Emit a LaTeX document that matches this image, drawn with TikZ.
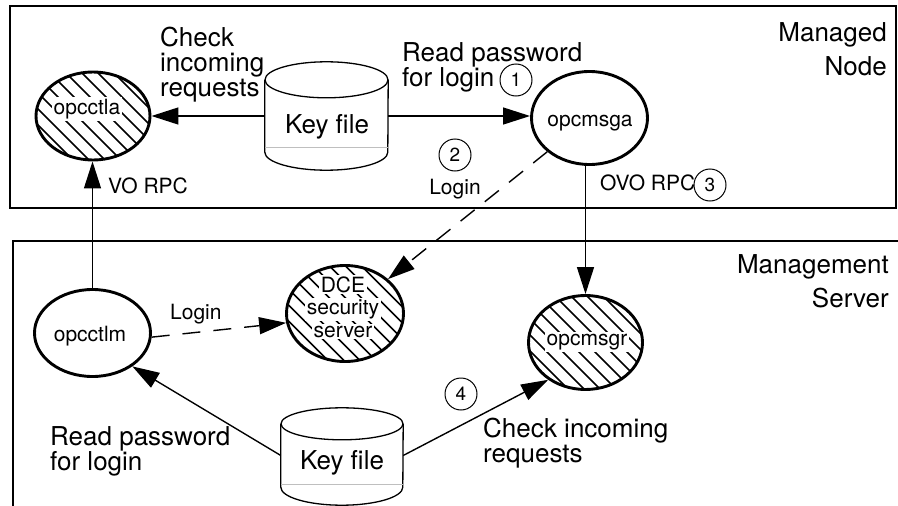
\documentclass[tikz,border=0pt]{standalone}
\usepackage{fontspec}
\setmainfont{TeX Gyre Heros}
\usetikzlibrary{arrows.meta,shapes.geometric}
\setlength{\fboxsep}{1.5pt}
\begin{document}
\begin{tikzpicture}[x=1pt, y=-1pt,
  frame/.style={line width=1.5pt},
  proc/.style={ellipse, draw, line width=2.9pt, inner sep=0pt},
  hatched/.style={path picture={
      \foreach \k in {-8,...,8}
        \draw[line width=1.6pt]
          ([xshift=\k*16pt-80pt, yshift=80pt]path picture bounding box.center)
          -- ++(160pt,-160pt);}},
  conn/.style={line width=1.4pt, -{Triangle[length=27pt,width=17pt]}},
  dashconn/.style={conn, dash pattern=on 18pt off 13pt},
  cyl/.style={line width=1.3pt},
  cylbody/.style={rectangle, draw=none, inner sep=0pt},
  big/.style={font=\fontsize{26}{25}\selectfont, inner sep=0pt},
  small/.style={font=\fontsize{21}{22.5}\selectfont, inner sep=0pt},
  num/.style={circle, draw, line width=1pt, fill=white, minimum size=32pt,
    inner sep=0pt, font=\fontsize{19}{19}\selectfont}]

\useasboundingbox (0,0) rectangle (898,506);
\clip (0,0) rectangle (898,506);

% the two hosts
\draw[frame] (10,6) rectangle (896,208);
\draw[frame] (13,530) |- (920,241);

% key files (cylinders)
\node[cylbody, minimum width=123pt, minimum height=72pt] (keyA) at (326.5,116) {};
\draw[cyl] (keyA.north) ellipse[x radius=61.5pt, y radius=18pt];
\draw[cyl] (keyA.north west) -- (keyA.south west)
  arc[start angle=180, end angle=360, x radius=61.5pt, y radius=18pt]
  -- (keyA.north east);
\draw[line width=1pt, black!25] ([yshift=5pt]keyA.south west) -- ([yshift=5pt]keyA.south east);
\node[big, anchor=base] (keyAT) at (327,133) {Key file};

\node[cylbody, minimum width=122pt, minimum height=63pt] (keyB) at (342,455.5) {};
\draw[cyl] (keyB.north) ellipse[x radius=61pt, y radius=16pt];
\draw[cyl] (keyB.north west) -- (keyB.south west)
  arc[start angle=180, end angle=360, x radius=61pt, y radius=18pt]
  -- (keyB.north east);
\draw[line width=1pt, black!25] ([yshift=3pt]keyB.south west) -- ([yshift=3pt]keyB.south east);
\node[big, anchor=base] (keyBT) at (342,469) {Key file};

% processes
\node[proc, hatched, minimum width=114pt, minimum height=88pt] (opcctla) at (93,116) {};
\node[small, anchor=base, fill=white, inner sep=2pt] (opcctlaT) at (87,114) {opcctla};

\node[proc, minimum width=116pt, minimum height=93pt] (opcmsga) at (589.5,118) {};
\node[small, anchor=base] (opcmsgaT) at (590,126) {opcmsga};

\node[proc, minimum width=116pt, minimum height=87pt] (opcctlm) at (92.5,333) {};
\node[small, anchor=base] (opcctlmT) at (90,341.5) {opcctlm};

\node[proc, hatched, minimum width=117pt, minimum height=96pt] (dce) at (345,313.5) {};
\node[small, anchor=base, align=center] (dceT) at (343,337)
  {\colorbox{white}{DCE}\\\colorbox{white}{security}\\\colorbox{white}{server}};

\node[proc, hatched, minimum width=114pt, minimum height=94pt] (opcmsgr) at (585.5,342.5) {};
\node[small, anchor=base, fill=white, inner sep=2pt] (opcmsgrT) at (587,345) {opcmsgr};

% connectors
\draw[conn] (keyA.west) -- (keyA.west -| opcctla.east);
\draw[conn] (keyA.east) -- (keyA.east -| opcmsga.west);
\draw[conn] (opcctlm.north) -- (opcctlm.north |- opcctla.south);
\draw[dashconn] (opcmsga) -- (dce);
\draw[conn] (opcmsga.south -| opcmsgr.north) -- (opcmsgr.north);
\draw[dashconn] (opcctlm.-4) -- (dce.189);
\draw[conn] (keyB.west) -- (opcctlm.-40);
\draw[conn] (keyB.east) -- (opcmsgr.225);

% labels (multi-line nodes are anchored at the baseline of their last line)
\node[big, anchor=base west, align=left] (checkA) at (160,96.7) {Check\\incoming\\requests};
\node[big, anchor=base west, align=left] (readA) at (402,86) {Read password\\for login};
\node[big, anchor=base east, align=right, font=\fontsize{26}{34}\selectfont] (managed) at (887,75) {Managed\\Node};
\node[big, anchor=base east, align=right, font=\fontsize{26}{34}\selectfont] (mgmt) at (889,307) {Management\\Server};
\node[big, anchor=base west, align=left] (readB) at (50,470) {Read password\\for login};
\node[big, anchor=base west, align=left] (checkB) at (483,462) {Check incoming\\requests};

\node[small, anchor=base west] (voRPC) at (108,193) {VO RPC};
\node[small, anchor=base west] (ovoRPC) at (600,190) {OVO RPC};
\node[small, anchor=base] (loginA) at (455,194) {Login};
\node[small, anchor=base west] (loginB) at (170,319) {Login};

% step numbers
\node[num] (n1) at (516,80) {1};
\node[num] (n2) at (455,155) {2};
\node[num] (n3) at (710,185) {3};
\node[num] (n4) at (461,394) {4};
\end{tikzpicture}
\end{document}
